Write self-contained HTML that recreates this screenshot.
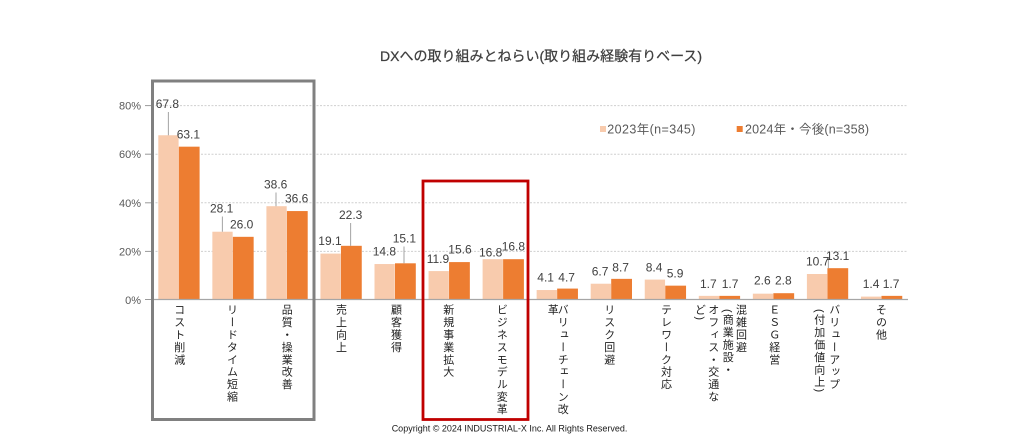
<!DOCTYPE html>
<html>
<head>
<meta charset="utf-8">
<style>
  html,body{margin:0;padding:0;background:#fff;}
  #wrap{position:relative;width:1024px;height:440px;overflow:hidden;background:#fff;}
  svg{position:absolute;left:0;top:0;}
  .v{position:absolute;top:304px;writing-mode:vertical-rl;font-family:"Liberation Sans","Noto Sans CJK JP",sans-serif;font-size:11px;letter-spacing:1.4px;line-height:11px;width:11px;color:#1f1f1f;white-space:nowrap;}
</style>
</head>
<body>
<div id="wrap">
<svg width="1024" height="440" viewBox="0 0 1024 440" xmlns="http://www.w3.org/2000/svg">
  <!-- title -->
  <text x="380" y="61" font-family="'Liberation Sans','Noto Sans CJK JP',sans-serif" font-size="14" fill="#3f3f3f" stroke="#3f3f3f" stroke-width="0.25">DXへの取り組みとねらい(取り組み経験有りベース)</text>

  <!-- gridlines -->
  <g stroke="#cfcfcf" stroke-width="1" stroke-dasharray="2 1.5">
    <line x1="152" y1="105.6" x2="908" y2="105.6"/>
    <line x1="152" y1="154.2" x2="908" y2="154.2"/>
    <line x1="152" y1="202.8" x2="908" y2="202.8"/>
    <line x1="152" y1="251.4" x2="908" y2="251.4"/>
  </g>
  <!-- y ticks -->
  <g stroke="#9a9a9a" stroke-width="1">
    <line x1="145" y1="105.6" x2="152" y2="105.6"/>
    <line x1="145" y1="154.2" x2="152" y2="154.2"/>
    <line x1="145" y1="202.8" x2="152" y2="202.8"/>
    <line x1="145" y1="251.4" x2="152" y2="251.4"/>
    <line x1="145" y1="299.5" x2="152" y2="299.5"/>
  </g>
  <!-- y labels -->
  <g font-family="'Liberation Sans',sans-serif" font-size="11" fill="#595959" text-anchor="end">
    <text x="141" y="109.6">80%</text>
    <text x="141" y="158.2">60%</text>
    <text x="141" y="206.8">40%</text>
    <text x="141" y="255.4">20%</text>
    <text x="141" y="304">0%</text>
  </g>

  <!-- bars 2023 -->
  <g fill="#F8CBAD">
    <rect x="158.3" y="135.25" width="20.3" height="164.75"/>
    <rect x="212.35" y="231.72" width="20.3" height="68.28"/>
    <rect x="266.4" y="206.2" width="20.3" height="93.8"/>
    <rect x="320.45" y="253.59" width="20.3" height="46.41"/>
    <rect x="374.5" y="264.04" width="20.3" height="35.96"/>
    <rect x="428.55" y="271.08" width="20.3" height="28.92"/>
    <rect x="482.6" y="259.18" width="20.3" height="40.82"/>
    <rect x="536.65" y="290.04" width="20.3" height="9.96"/>
    <rect x="590.7" y="283.72" width="20.3" height="16.28"/>
    <rect x="644.75" y="279.59" width="20.3" height="20.41"/>
    <rect x="698.8" y="295.87" width="20.3" height="4.13"/>
    <rect x="752.85" y="293.68" width="20.3" height="6.32"/>
    <rect x="806.9" y="274" width="20.3" height="26"/>
    <rect x="860.95" y="296.6" width="20.3" height="3.4"/>
  </g>
  <!-- bars 2024 -->
  <g fill="#ED7D31">
    <rect x="178.8" y="146.67" width="20.8" height="153.33"/>
    <rect x="232.85" y="236.82" width="20.8" height="63.18"/>
    <rect x="286.9" y="211.06" width="20.8" height="88.94"/>
    <rect x="340.95" y="245.81" width="20.8" height="54.19"/>
    <rect x="395" y="263.31" width="20.8" height="36.69"/>
    <rect x="449.05" y="262.09" width="20.8" height="37.91"/>
    <rect x="503.1" y="259.18" width="20.8" height="40.82"/>
    <rect x="557.15" y="288.58" width="20.8" height="11.42"/>
    <rect x="611.2" y="278.86" width="20.8" height="21.14"/>
    <rect x="665.25" y="285.66" width="20.8" height="14.34"/>
    <rect x="719.3" y="295.87" width="20.8" height="4.13"/>
    <rect x="773.35" y="293.2" width="20.8" height="6.8"/>
    <rect x="827.4" y="268.17" width="20.8" height="31.83"/>
    <rect x="881.45" y="295.87" width="20.8" height="4.13"/>
  </g>

  <!-- baseline -->
  <line x1="152" y1="299.5" x2="908" y2="299.5" stroke="#a6a6a6" stroke-width="1.2"/>

  <!-- leader lines -->
  <g stroke="#8c8c8c" stroke-width="0.8">
    <line x1="168.3" y1="112" x2="168.3" y2="135.3"/>
    <line x1="222.3" y1="216.5" x2="222.3" y2="231.7"/>
    <line x1="276" y1="192.5" x2="276" y2="206.2"/>
    <line x1="350.7" y1="223" x2="350.7" y2="245.8"/>
    <line x1="404" y1="246.5" x2="404" y2="263.3"/>
    <line x1="828.3" y1="258" x2="828.3" y2="268.2"/>
  </g>

  <!-- data labels -->
  <g font-family="'Liberation Sans',sans-serif" font-size="12" fill="#404040">
    <text x="155.7" y="108">67.8</text>
    <text x="210" y="212.3">28.1</text>
    <text x="264" y="188.3">38.6</text>
    <text x="318.3" y="245">19.1</text>
    <text x="372.7" y="255.7">14.8</text>
    <text x="426.7" y="263">11.9</text>
    <text x="479" y="256.3">16.8</text>
    <text x="537.3" y="281.3">4.1</text>
    <text x="591.7" y="275.7">6.7</text>
    <text x="645.7" y="271.7">8.4</text>
    <text x="700" y="288">1.7</text>
    <text x="754" y="284.7">2.6</text>
    <text x="806" y="265.7">10.7</text>
    <text x="862.7" y="288">1.4</text>

    <text x="176.7" y="138.3">63.1</text>
    <text x="230" y="228.3">26.0</text>
    <text x="285" y="202.3">36.6</text>
    <text x="339" y="219">22.3</text>
    <text x="392.7" y="242.3">15.1</text>
    <text x="448.3" y="253.3">15.6</text>
    <text x="501.7" y="250.7">16.8</text>
    <text x="558.3" y="281.3">4.7</text>
    <text x="612.3" y="271.7">8.7</text>
    <text x="666.7" y="277.3">5.9</text>
    <text x="721.7" y="288">1.7</text>
    <text x="775" y="284.7">2.8</text>
    <text x="826" y="260">13.1</text>
    <text x="882.7" y="288">1.7</text>
  </g>

  <!-- legend -->
  <rect x="600" y="126" width="6" height="6" fill="#F8CBAD"/>
  <text x="607.3" y="133.5" font-family="'Liberation Sans','Noto Sans CJK JP',sans-serif" font-size="12.5" letter-spacing="0.4" fill="#595959">2023年(n=345)</text>
  <rect x="736.7" y="126" width="6" height="6" fill="#ED7D31"/>
  <text x="745" y="133.5" font-family="'Liberation Sans','Noto Sans CJK JP',sans-serif" font-size="12.5" letter-spacing="0.2" fill="#595959">2024年・今後(n=358)</text>

  <!-- highlight boxes -->
  <rect x="152.5" y="81" width="161.5" height="338.5" fill="none" stroke="#808080" stroke-width="3"/>
  <rect x="423" y="181" width="105" height="238.5" fill="none" stroke="#C00000" stroke-width="2.8"/>

  <!-- copyright -->
  <text x="391.7" y="431.5" font-family="'Liberation Sans',sans-serif" font-size="9" fill="#1a1a1a">Copyright © 2024 INDUSTRIAL-X Inc. All Rights Reserved.</text>
</svg>

<!-- vertical category labels -->
<div class="v" style="left:172.8px;">コスト削減</div>
<div class="v" style="left:225.5px;">リードタイム短縮</div>
<div class="v" style="left:280.2px;">品質・操業改善</div>
<div class="v" style="left:334.5px;">売上向上</div>
<div class="v" style="left:389.5px;">顧客獲得</div>
<div class="v" style="left:441.8px;">新規事業拡大</div>
<div class="v" style="left:495.2px;">ビジネスモデル変革</div>
<div class="v" style="left:556.2px;">バリューチェーン改</div>
<div class="v" style="left:546.2px;">革</div>
<div class="v" style="left:602.8px;">リスク回避</div>
<div class="v" style="left:659.5px;">テレワーク対応</div>
<div class="v" style="left:734.5px;">混雑回避</div>
<div class="v" style="left:721.2px;top:309px;">(商業施設・</div>
<div class="v" style="left:706.8px;">オフィス・交通な</div>
<div class="v" style="left:693.5px;">ど)</div>
<div class="v" style="left:767.8px;">ＥＳＧ経営</div>
<div class="v" style="left:827.8px;">バリューアップ</div>
<div class="v" style="left:812.8px;top:309px;">(付加価値向上)</div>
<div class="v" style="left:874.5px;">その他</div>
</div>
</body>
</html>
